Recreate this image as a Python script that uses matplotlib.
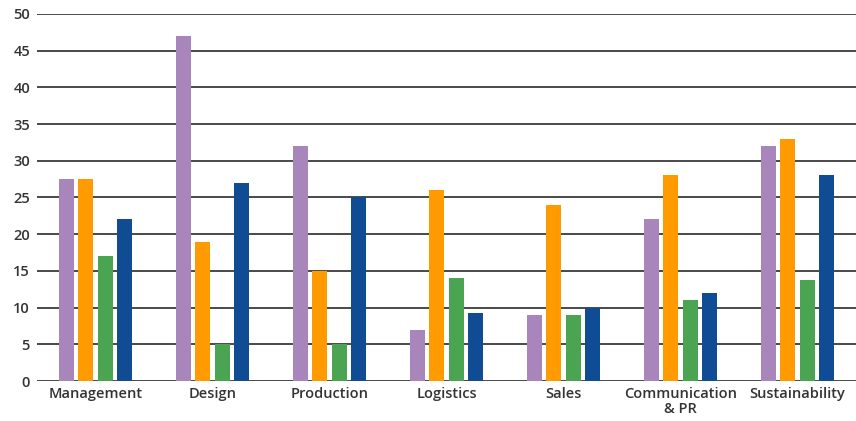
import numpy as np
import matplotlib
matplotlib.use('Agg')
import matplotlib.pyplot as plt

categories = ['Management', 'Design', 'Production', 'Logistics', 'Sales',
              'Communication\n& PR', 'Sustainability']
s1 = [27.5, 47, 32, 7, 9, 22, 32]
s2 = [27.5, 19, 15, 26, 24, 28, 33]
s3 = [17, 5, 5, 14, 9, 11, 13.7]
s4 = [22, 27, 25, 9.2, 10, 12, 28]
colors = ['#a886bb', '#ff9a00', '#4aa451', '#0f4c94']

plt.rcParams['font.family'] = ['Open Sans', 'DejaVu Sans']

fig = plt.figure(figsize=(8.56, 4.21), dpi=100)
ax = fig.add_axes([0.0432, 0.095, 0.9568, 0.872])

x = np.arange(len(categories))
step = 0.167
w = 0.128
for i, (vals, c) in enumerate(zip([s1, s2, s3, s4], colors)):
    ax.bar(x + (i - 1.5) * step, vals, width=w, color=c, zorder=3)

ax.set_ylim(0, 50)
ax.set_xlim(-0.5, 6.5)
ax.set_yticks(range(0, 51, 5))
ax.yaxis.grid(True, color='#3a3a3a', lw=1.3, zorder=0)
ax.set_axisbelow(True)
for sp in ax.spines.values():
    sp.set_visible(False)
ax.set_xticks(x)
ax.set_xticklabels(categories, fontsize=10.5, color='#333333', fontweight='semibold', linespacing=1.1)
ax.tick_params(axis='both', length=0, labelsize=10.5, colors='#333333')
ax.tick_params(axis='y', pad=5)
ax.tick_params(axis='x', pad=4)
for lab in ax.get_yticklabels():
    lab.set_fontweight('semibold')

fig.savefig('out.png', dpi=100)
